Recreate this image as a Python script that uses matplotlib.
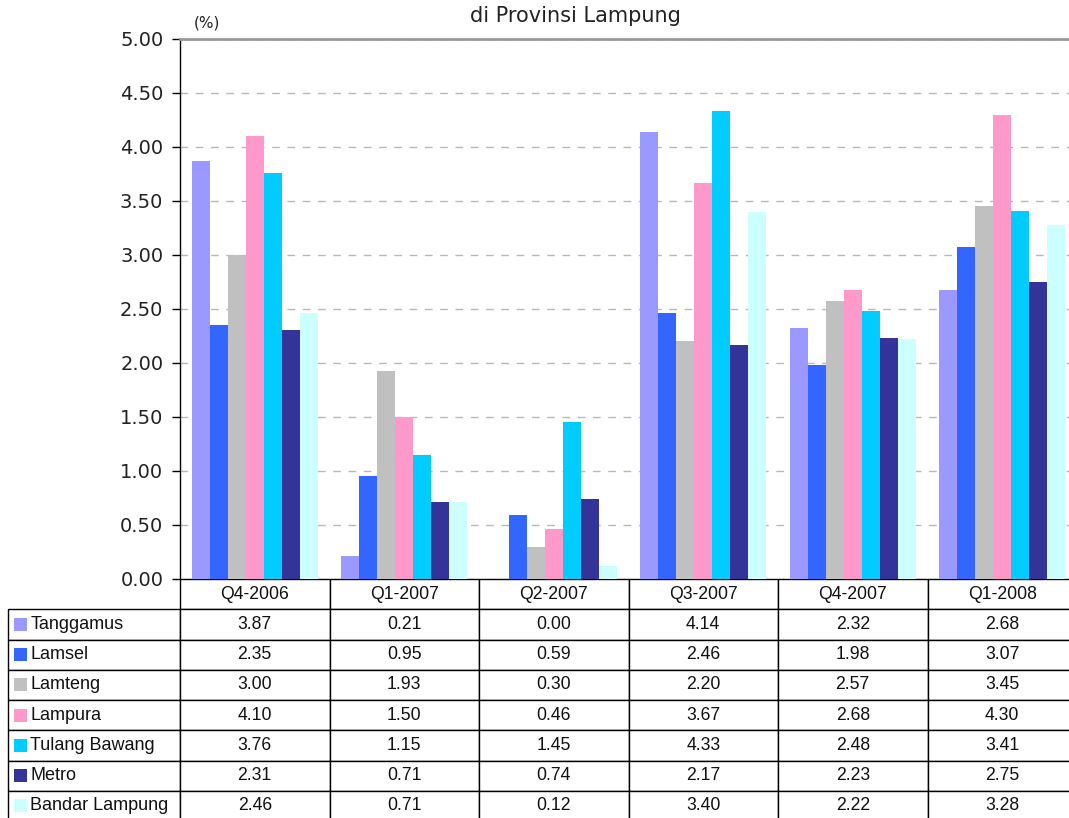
import matplotlib
matplotlib.use("Agg")
import matplotlib.pyplot as plt
from matplotlib.patches import Rectangle
from matplotlib.table import Table
import numpy as np

# Quarterly figures per regency/city, in percent
quarters = ["Q4-2006", "Q1-2007", "Q2-2007", "Q3-2007", "Q4-2007", "Q1-2008"]
regions = ["Tanggamus", "Lamsel", "Lamteng", "Lampura",
           "Tulang Bawang", "Metro", "Bandar Lampung"]
tanggamus = [3.87, 0.21, 0.00, 4.14, 2.32, 2.68]
lamsel = [2.35, 0.95, 0.59, 2.46, 1.98, 3.07]
lamteng = [3.00, 1.93, 0.30, 2.20, 2.57, 3.45]
lampura = [4.10, 1.50, 0.46, 3.67, 2.68, 4.30]
tulang_bawang = [3.76, 1.15, 1.45, 4.33, 2.48, 3.41]
metro = [2.31, 0.71, 0.74, 2.17, 2.23, 2.75]
bandar_lampung = [2.46, 0.71, 0.12, 3.40, 2.22, 3.28]
series = [tanggamus, lamsel, lamteng, lampura, tulang_bawang, metro, bandar_lampung]
colors = ["#9999FF", "#3366FF", "#C0C0C0", "#FF99CC", "#00CCFF", "#333399", "#CCFFFF"]
yticks = [0.0, 0.5, 1.0, 1.5, 2.0, 2.5, 3.0, 3.5, 4.0, 4.5, 5.0]

W, H = 1069, 818
fig = plt.figure(figsize=(W / 100, H / 100), dpi=100)

# plot area in pixel coordinates
px_left, px_right, px_top, px_bottom = 180, 1077, 39, 579
ax = fig.add_axes([px_left / W, 1 - px_bottom / H,
                   (px_right - px_left) / W, (px_bottom - px_top) / H])

x = np.arange(len(quarters))
bar_w = 0.12
n = len(series)
for i, (vals, c) in enumerate(zip(series, colors)):
    ax.bar(x + (i - (n - 1) / 2) * bar_w, vals, width=bar_w, color=c,
           edgecolor="none", zorder=3)

ax.set_xlim(-0.5, len(quarters) - 0.5)
ax.set_ylim(0, 5)
ax.set_yticks(yticks)
ax.set_yticklabels([f"{v:.2f}" for v in yticks], fontsize=14,
                   family="DejaVu Sans", color="#222222")
ax.set_xticks([])
ax.tick_params(axis="y", direction="out", length=6, width=1, color="black", pad=6)
ax.yaxis.grid(True, linestyle=(0, (5.5, 5.5)), color="#B8B8B8", linewidth=1, zorder=0)
ax.set_axisbelow(True)
for s in ["right", "bottom"]:
    ax.spines[s].set_visible(False)
ax.spines["top"].set_color("#999999")
ax.spines["top"].set_linewidth(2)
ax.spines["left"].set_color("black")
ax.spines["left"].set_linewidth(1)

# data table underneath the bars
axw = px_right - px_left
axh = px_bottom - px_top
lab_w = (px_left - 8) / axw
tbl_h = (821 - px_bottom) / axh
col_w = 1 / len(quarters)
row_h = tbl_h / (len(regions) + 1)

tbl = Table(ax, bbox=[-lab_w, -tbl_h, 1 + lab_w, tbl_h])
for j, q in enumerate(quarters):
    tbl.add_cell(0, j + 1, width=col_w, height=row_h, text=q, loc="center")
for i, (name, vals) in enumerate(zip(regions, series)):
    cell = tbl.add_cell(i + 1, 0, width=lab_w, height=row_h, text=name, loc="left")
    cell.PAD = 0.13
    for j, v in enumerate(vals):
        tbl.add_cell(i + 1, j + 1, width=col_w, height=row_h,
                     text=f"{v:.2f}", loc="center")
tbl.auto_set_font_size(False)
tbl.set_fontsize(12.7)
for (r, c), cell in tbl.get_celld().items():
    cell.set_edgecolor("black")
    cell.set_linewidth(1)
    cell.set_facecolor("white")
    txt = cell.get_text()
    txt.set_family("Liberation Sans")
    txt.set_color("#111111")
    if c == 0:
        txt.set_fontsize(13)
tbl.set_clip_on(False)
ax.add_table(tbl)

# colour keys beside the row labels
key_w = 13 / axw
key_h = 13 / axh
for i, c in enumerate(colors):
    yc = -row_h * (i + 1.5)
    ax.add_patch(Rectangle((-lab_w + 6 / axw, yc - key_h / 2), key_w, key_h,
                           transform=ax.transAxes, facecolor=c,
                           edgecolor="none", clip_on=False, zorder=5))

fig.text(575 / W, 1 - 22 / H, "di Provinsi Lampung", ha="center",
         va="baseline", fontsize=15, family="DejaVu Sans", color="#222222")
fig.text(207 / W, 1 - 27 / H, "(%)", ha="center", va="baseline",
         fontsize=11, family="DejaVu Sans", color="#222222")

fig.savefig("out.png", dpi=100)
